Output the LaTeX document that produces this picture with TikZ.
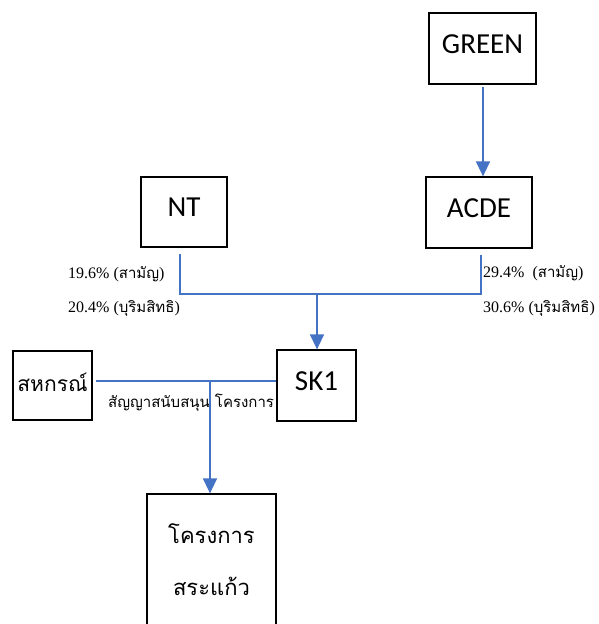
\documentclass[tikz,border=0pt]{standalone}
\usepackage{fontspec}
\setmainfont{Carlito}
\newfontfamily\thai[Script=Thai]{Loma}
\newfontfamily\tnr{Liberation Serif}
\usetikzlibrary{arrows.meta,calc}
\definecolor{lineblue}{RGB}{68,114,196}
\newcommand{\lab}[2]{{\tnr\fontsize{16}{19}\selectfont #1(}{\thai\fontsize{15}{18}\selectfont #2}{\tnr\fontsize{16}{19}\selectfont )}}
\tikzset{
  plainbox/.style={draw=black, line width=1.3pt, rectangle, inner sep=0pt},
  box/.style={plainbox, font=\fontsize{29}{33}\selectfont, text height=20pt, text depth=11pt},
  conn/.style={draw=lineblue, line width=1.6pt},
  arr/.style={conn, -{Triangle[width=14pt,length=15pt]}},
  lbl/.style={anchor=west, inner sep=0pt}
}
\begin{document}
\begin{tikzpicture}[x=1pt,y=-1pt]
\useasboundingbox (0,0) rectangle (598,624);
\node[box, minimum width=107pt, minimum height=71pt] (green) at (482.5,48.5) {GREEN};
\node[box, minimum width=106pt, minimum height=71pt] (acde) at (479,212.5) {ACDE};
\node[box, minimum width=86pt, minimum height=70pt] (nt) at (184,212) {NT};
\node[box, minimum width=79pt, minimum height=71pt] (sk1) at (316.5,385.5) {SK1};
\node[box, minimum width=79pt, minimum height=69pt, font=\thai\fontsize{21}{24}\selectfont, text depth=8pt] (coop) at (52.5,385.5) {สหกรณ์};
\node[plainbox, minimum width=129pt, minimum height=132pt, align=center, font=\thai\fontsize{22}{52}\selectfont] (proj) at (211.5,560) {โครงการ\\สระแก้ว};
% labels
\node[lbl] (l1) at (68,274) {\lab{19.6\% }{สามัญ}};
\node[lbl] (l2) at (68,308) {\lab{20.4\% }{บุริมสิทธิ}};
\node[lbl] (r1) at (483,273) {\lab{29.4\%\ \ }{สามัญ}};
\node[lbl] (r2) at (483,308) {\lab{30.6\% }{บุริมสิทธิ}};
\node[lbl, font=\thai\fontsize{15}{18}\selectfont] (contract) at (108,403) {สัญญาสนับสนุน โครงการ};
% connectors
\coordinate (jl) at (180,294);
\coordinate (jr) at (481,294);
\coordinate (jm) at (317,294);
\coordinate (gs) at (483,87);
\draw[arr] (gs) -- (gs |- acde.north);
\draw[conn] ([yshift=-6pt]nt.south -| jl) -- (jl) -- (jr) -- ([yshift=-6pt]acde.south -| jr);
\draw[arr] (jm) -- (jm |- sk1.north);
\coordinate (cl) at (96,381);
\coordinate (cm) at (210,381);
\draw[conn] (cl) -- (cl -| sk1.west);
\draw[arr] (cm) -- (cm |- proj.north);
\end{tikzpicture}
\end{document}
